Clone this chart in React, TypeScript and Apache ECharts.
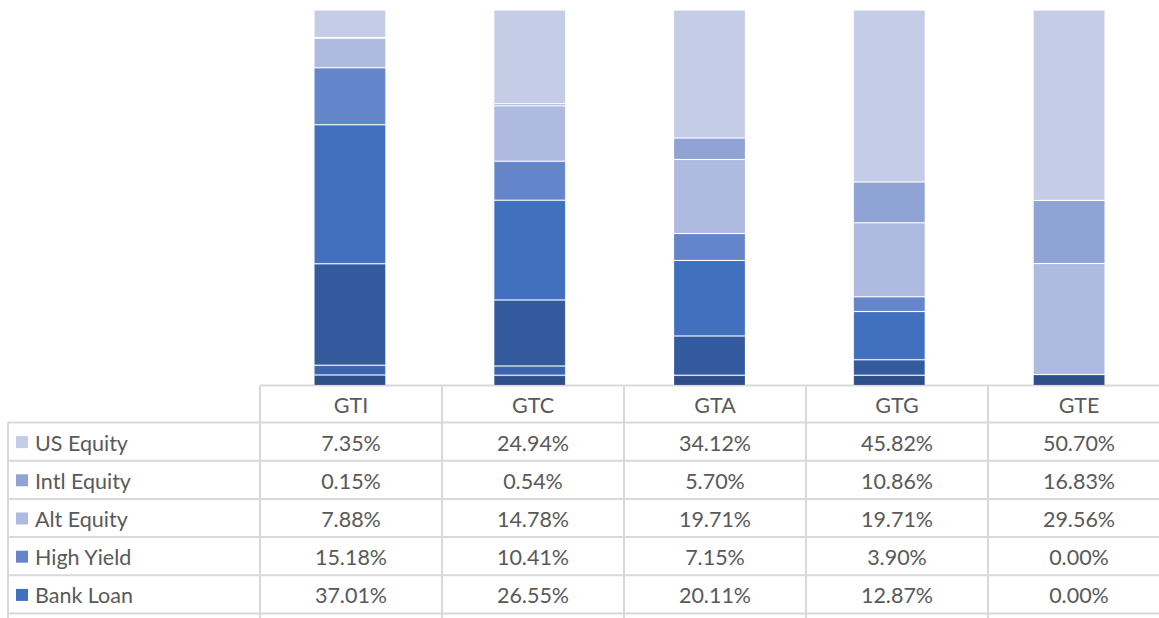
import React, { useEffect, useRef } from "react";
import * as echarts from "echarts";

// ---- data ----
const categories = ["GTI", "GTC", "GTA", "GTG", "GTE"];

// table order (top to bottom)
const seriesNames = [
  "US Equity",
  "Intl Equity",
  "Alt Equity",
  "High Yield",
  "Bank Loan",
  "Core Bond",
  "Short Duration",
  "Cash",
];
const usEquity = [7.35, 24.94, 34.12, 45.82, 50.7];
const intlEquity = [0.15, 0.54, 5.7, 10.86, 16.83];
const altEquity = [7.88, 14.78, 19.71, 19.71, 29.56];
const highYield = [15.18, 10.41, 7.15, 3.9, 0.0];
const bankLoan = [37.01, 26.55, 20.11, 12.87, 0.0];
const coreBond = [27.03, 17.6, 10.5, 4.1, 0.0];
const shortDuration = [2.6, 2.48, 0.0, 0.0, 0.0];
const cash = [2.8, 2.7, 2.71, 2.74, 2.91];

const seriesValues = [
  usEquity,
  intlEquity,
  altEquity,
  highYield,
  bankLoan,
  coreBond,
  shortDuration,
  cash,
];
const seriesColors = [
  "#c5cde6",
  "#8fa3d5",
  "#aebadf",
  "#6585cb",
  "#4170bf",
  "#345a9e",
  "#3c65b0",
  "#2d4e88",
];

// ---- layout ----
const W = 1159;
const H = 618;
const GRID_LEFT = 260;
const COL_W = 182;
const GRID_TOP = 10;
const GRID_BOTTOM_Y = 385.5;
const HEADER_H = 37;
const ROW_H = 38.2;
const TABLE_LEFT = 8;
const LINE_COLOR = "#d9d9d9";
const TEXT_COLOR = "#595959";
const FONT = "Lato, 'Open Sans', sans-serif";
const FONT_SIZE = 21.5;

export default function App() {
  const ref = useRef<HTMLDivElement>(null);

  useEffect(() => {
    if (!ref.current) return;
    document.body.style.margin = "0";
    const chart = echarts.init(ref.current, null, { renderer: "svg" });
    const nCols = categories.length;
    const tableRight = GRID_LEFT + nCols * COL_W;
    const gridHeight = GRID_BOTTOM_Y - GRID_TOP;

    // stacked bars: last series in table order is at the bottom
    const stackOrder = seriesNames.map((_, i) => i).reverse();
    const series = stackOrder.map((i) => ({
      name: seriesNames[i],
      type: "bar",
      stack: "total",
      barCategoryGap: "60%",
      data: seriesValues[i],
      itemStyle: {
        color: seriesColors[i],
        borderColor: "rgba(255,255,255,0.14)",
        borderWidth: 1,
      },
      emphasis: { disabled: true },
    }));

    const graphic: any[] = [];
    const line = (x1: number, y1: number, x2: number, y2: number) =>
      graphic.push({
        type: "line",
        silent: true,
        shape: { x1, y1, x2, y2 },
        style: { stroke: LINE_COLOR, lineWidth: 2 },
      });

    const headerTop = GRID_BOTTOM_Y;
    const rowsTop = headerTop + HEADER_H;
    // header top line
    line(GRID_LEFT, headerTop, tableRight, headerTop);
    // row lines
    const nLines = Math.ceil((H - rowsTop) / ROW_H) + 1;
    for (let k = 0; k < nLines; k++) {
      const y = rowsTop + k * ROW_H;
      line(TABLE_LEFT, y, tableRight, y);
    }
    // vertical lines
    line(TABLE_LEFT, rowsTop, TABLE_LEFT, H + 20);
    for (let c = 0; c <= nCols; c++) {
      const x = GRID_LEFT + c * COL_W;
      line(x, headerTop, x, H + 20);
    }
    // header texts
    categories.forEach((cat, c) => {
      graphic.push({
        type: "text",
        silent: true,
        x: GRID_LEFT + (c + 0.5) * COL_W,
        y: headerTop + HEADER_H / 2 + 1,
        style: {
          text: cat,
          fill: TEXT_COLOR,
          font: `${FONT_SIZE}px ${FONT}`,
          textAlign: "center",
          textVerticalAlign: "middle",
        },
      });
    });
    // rows
    seriesNames.forEach((name, r) => {
      const cy = rowsTop + (r + 0.5) * ROW_H + 1;
      if (cy + 8 > H) return; // row falls outside the visible page
      graphic.push({
        type: "rect",
        silent: true,
        shape: { x: 16, y: cy - 6.5, width: 12, height: 12 },
        style: { fill: seriesColors[r] },
      });
      graphic.push({
        type: "text",
        silent: true,
        x: 35,
        y: cy,
        style: {
          text: name,
          fill: TEXT_COLOR,
          font: `${FONT_SIZE}px ${FONT}`,
          textAlign: "left",
          textVerticalAlign: "middle",
        },
      });
      seriesValues[r].forEach((v, c) => {
        graphic.push({
          type: "text",
          silent: true,
          x: GRID_LEFT + (c + 0.5) * COL_W,
          y: cy,
          style: {
            text: v.toFixed(2) + "%",
            fill: TEXT_COLOR,
            font: `${FONT_SIZE}px ${FONT}`,
            textAlign: "center",
            textVerticalAlign: "middle",
          },
        });
      });
    });

    chart.setOption({
      animation: false,
      grid: {
        left: GRID_LEFT,
        top: GRID_TOP,
        width: nCols * COL_W,
        height: gridHeight,
        containLabel: false,
      },
      xAxis: {
        type: "category",
        data: categories,
        show: false,
      },
      yAxis: {
        type: "value",
        min: 0,
        max: 100,
        show: false,
      },
      tooltip: { show: false },
      series,
      graphic,
    });

    return () => chart.dispose();
  }, []);

  return (
    <div
      ref={ref}
      style={{
        width: W,
        height: H,
        background: "#ffffff",
        overflow: "hidden",
      }}
    />
  );
}
